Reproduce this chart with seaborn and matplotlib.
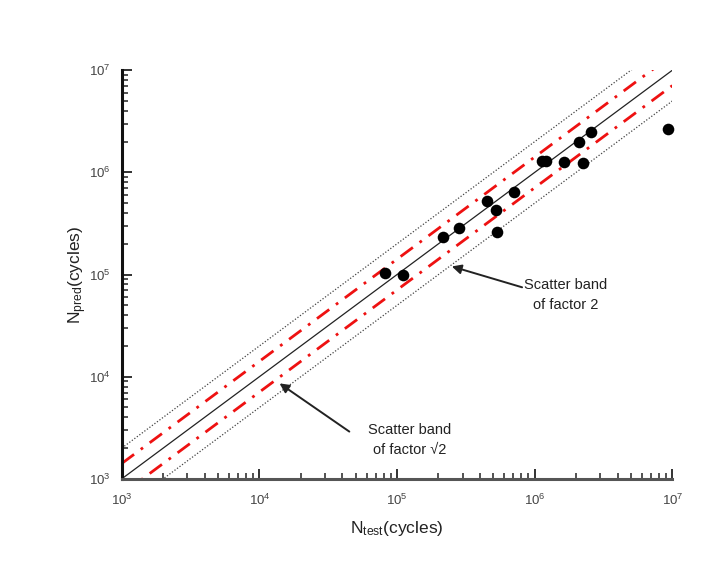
import numpy as np
import pandas as pd
import matplotlib
matplotlib.use("Agg")
import matplotlib.pyplot as plt
import seaborn as sns
from matplotlib.ticker import LogLocator

# ---- data ----
n_test = [8.2e4, 1.11e5, 2.16e5, 2.82e5, 4.5e5, 5.25e5, 5.35e5, 7.1e5,
          1.13e6, 1.21e6, 1.64e6, 2.25e6, 2.11e6, 2.58e6, 9.35e6]
n_pred = [1.03e5, 0.99e5, 2.32e5, 2.85e5, 5.2e5, 4.27e5, 2.6e5, 6.5e5,
          1.28e6, 1.28e6, 1.26e6, 1.23e6, 1.97e6, 2.47e6, 2.64e6]
band_range = [1e3, 1e7]
factor_sqrt2 = np.sqrt(2)
factor_2 = 2.0
tick_values = [1e3, 1e4, 1e5, 1e6, 1e7]

sns.set_style("ticks")
plt.rcParams['font.family'] = ['Liberation Sans', 'DejaVu Sans']
plt.rcParams['mathtext.default'] = 'regular'

fig = plt.figure(figsize=(7.04, 5.62), dpi=100)
ax = fig.add_axes([0.173, 0.148, 0.782, 0.727])

xr = np.array(band_range)
lines = pd.DataFrame({"x": np.concatenate([xr] * 5),
                      "y": np.concatenate([xr, xr * factor_sqrt2, xr / factor_sqrt2,
                                           xr * factor_2, xr / factor_2]),
                      "kind": ["1:1"] * 2 + ["s2u"] * 2 + ["s2l"] * 2 + ["f2u"] * 2 + ["f2l"] * 2})

sub = lines[lines.kind == "1:1"]
sns.lineplot(data=sub, x="x", y="y", ax=ax, color="#222222", lw=0.9, estimator=None)
for k in ["s2u", "s2l"]:
    sub = lines[lines.kind == k]
    sns.lineplot(data=sub, x="x", y="y", ax=ax, color="#ee1111", lw=2.0,
                 estimator=None, dashes=False, linestyle=(0, (5.5, 3, 1, 3)))
for k in ["f2u", "f2l"]:
    sub = lines[lines.kind == k]
    sns.lineplot(data=sub, x="x", y="y", ax=ax, color="#444444", lw=0.9,
                 estimator=None, linestyle=(0, (1, 1.5)))

pts = pd.DataFrame({"test": n_test, "pred": n_pred})
sns.scatterplot(data=pts, x="test", y="pred", ax=ax, color="black", s=70,
                edgecolor="black", linewidth=0, zorder=5, clip_on=False)

ax.set_xscale("log")
ax.set_yscale("log")
ax.set_xlim(1e3, 1e7)
ax.set_ylim(1e3, 1e7)
ax.set_xticks(tick_values)
ax.set_yticks(tick_values)
ax.xaxis.set_minor_locator(LogLocator(base=10, subs=np.arange(2, 10)))
ax.yaxis.set_minor_locator(LogLocator(base=10, subs=np.arange(2, 10)))
ax.tick_params(which="major", direction="in", length=7, width=1.3, color="#222222",
               labelsize=9.5, labelcolor="#444444", pad=10)
ax.tick_params(which="minor", direction="in", length=4, width=1.1, color="#222222")
ax.tick_params(axis="y", which="major", pad=8)

for s in ["top", "right"]:
    ax.spines[s].set_visible(False)
for s in ["left", "bottom"]:
    ax.spines[s].set_linewidth(2.2)
ax.spines["left"].set_color("#111111")
ax.spines["bottom"].set_color("#555555")

ax.set_xlabel("N$_{test}$(cycles)", fontsize=12.5, color="#222222", labelpad=8)
ax.set_ylabel("N$_{pred}$(cycles)", fontsize=12.5, color="#222222", labelpad=0)

# annotation texts
fig.text(0.803, 0.475, "Scatter band\nof factor 2", ha="center", va="center",
         fontsize=10.5, color="#222222", linespacing=1.5)
fig.text(0.582, 0.217, "Scatter band\nof factor \u221a2", ha="center", va="center",
         fontsize=10.5, color="#222222", linespacing=1.5)

arrow = dict(arrowstyle="-|>", color="#222222", lw=1.4, mutation_scale=14,
             shrinkA=0, shrinkB=0)
ax.annotate("", xy=(2.5e5, 1.2e5), xytext=(8.1e5, 7.5e4), xycoords="data",
            textcoords="data", arrowprops=arrow)
ax.annotate("", xy=(1.4e4, 8.6e3), xytext=(4.5e4, 2.9e3), xycoords="data",
            textcoords="data", arrowprops=arrow)

fig.savefig("out.png", dpi=100)
